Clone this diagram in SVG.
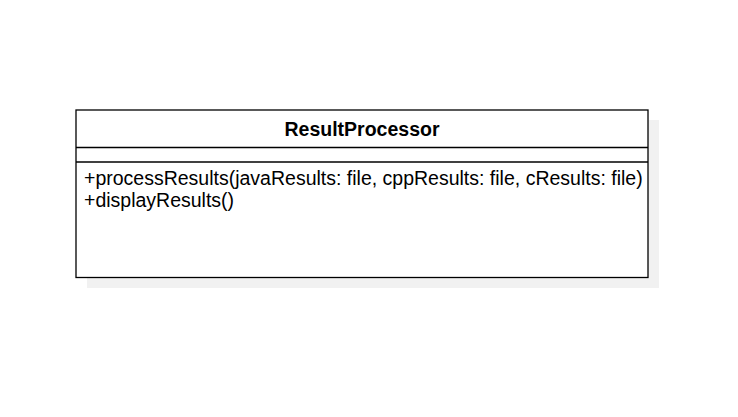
<svg xmlns="http://www.w3.org/2000/svg" width="738" height="417" viewBox="0 0 738 417">
<style>
.box{fill:#fff;stroke:#000;stroke-width:1.3}
.shadow{fill:#f1f1f1}
.t{font-family:"Liberation Sans",Arial,sans-serif;font-size:19.5px;fill:#000}
.b{font-weight:bold;text-anchor:middle}
</style>
<rect width="738" height="417" fill="#fff"/>
<g id="ResultProcessor">
<rect class="shadow" x="87" y="120" width="572" height="168"/>
<rect class="box" x="76" y="110" width="572" height="167.5"/>
<line x1="76" y1="147.5" x2="648" y2="147.5" stroke="#000" stroke-width="1.3"/>
<line x1="76" y1="162" x2="648" y2="162" stroke="#000" stroke-width="1.3"/>
<text class="t b" x="362" y="136">ResultProcessor</text>
<text class="t" x="84" y="185">+processResults(javaResults: file, cppResults: file, cResults: file)</text>
<text class="t" x="84" y="207">+displayResults()</text>
</g>
<g id="connectors"/>
</svg>
